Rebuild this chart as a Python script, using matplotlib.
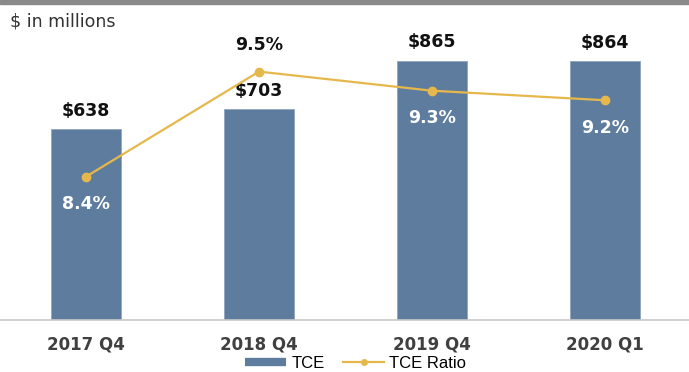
import matplotlib.pyplot as plt
from matplotlib.lines import Line2D
from matplotlib.patches import Rectangle

quarters = ["2017 Q4", "2018 Q4", "2019 Q4", "2020 Q1"]
tce = [638, 703, 865, 864]
tce_ratio = [8.4, 9.5, 9.3, 9.2]
ratio_above = [False, True, False, False]

bar_color = "#5e7d9e"
line_color = "#e6b84c"

fig = plt.figure(figsize=(6.89, 3.72), dpi=100)
ax = fig.add_axes([0, 52 / 372, 1, 300 / 372])
ax2 = ax.twinx()

x = list(range(len(quarters)))
ax.bar(x, tce, width=0.40, color=bar_color, edgecolor="#8fa6bf", linewidth=0.6, zorder=2)
ax.set_xlim(-0.497, 3.486)
ax.set_ylim(0, 1000)

for xi, v in zip(x, tce):
    ax.annotate(f"${v}", (xi, v), xytext=(0, 13), textcoords="offset points",
                ha="center", va="center", fontsize=12.5, fontweight="bold", color="#111111")

ax2.plot(x, tce_ratio, color=line_color, linewidth=1.6, marker="o", markersize=6, zorder=3)
ax2.set_ylim(6.90, 10.04)
for xi, v, above in zip(x, tce_ratio, ratio_above):
    if above:
        ax2.annotate(f"{v}%", (xi, v), xytext=(0, 19), textcoords="offset points",
                     ha="center", va="center", fontsize=12.5, fontweight="bold", color="#111111")
    else:
        ax2.annotate(f"{v}%", (xi, v), xytext=(0, -20), textcoords="offset points",
                     ha="center", va="center", fontsize=12.5, fontweight="bold", color="white")

for a in (ax, ax2):
    for s in ("top", "right", "left"):
        a.spines[s].set_visible(False)
    a.set_yticks([])
ax.spines["bottom"].set_color("#c8c8c8")
ax.spines["bottom"].set_linewidth(1.2)
ax2.spines["bottom"].set_visible(False)

ax.set_xticks(x)
ax.set_xticklabels(quarters, fontsize=12, fontweight="bold", color="#404040")
ax.tick_params(axis="x", length=0, pad=11)

fig.text(0.0145, 0.941, "$ in millions", fontsize=12.5, color="#333333", va="center")

# legend handles: thin bar swatch and line with a small dot
handles = [
    Line2D([], [], color=bar_color, linewidth=6, solid_capstyle="butt"),
    Line2D([], [], color=line_color, linewidth=1.6, marker="o", markersize=4),
]
fig.legend(handles, ["TCE", "TCE Ratio"], loc="center", bbox_to_anchor=(0.516, 0.024),
           ncol=2, frameon=False, handlelength=2.5, columnspacing=1.1, handletextpad=0.3,
           borderpad=0.1, prop={"family": "Liberation Sans", "size": 12})

# grey frame strip along the top edge
fig.patches.append(Rectangle((0, 1 - 4 / 372), 1, 4 / 372, transform=fig.transFigure,
                             color="#8a8a8a", zorder=10))

fig.savefig("out.png", dpi=100)
